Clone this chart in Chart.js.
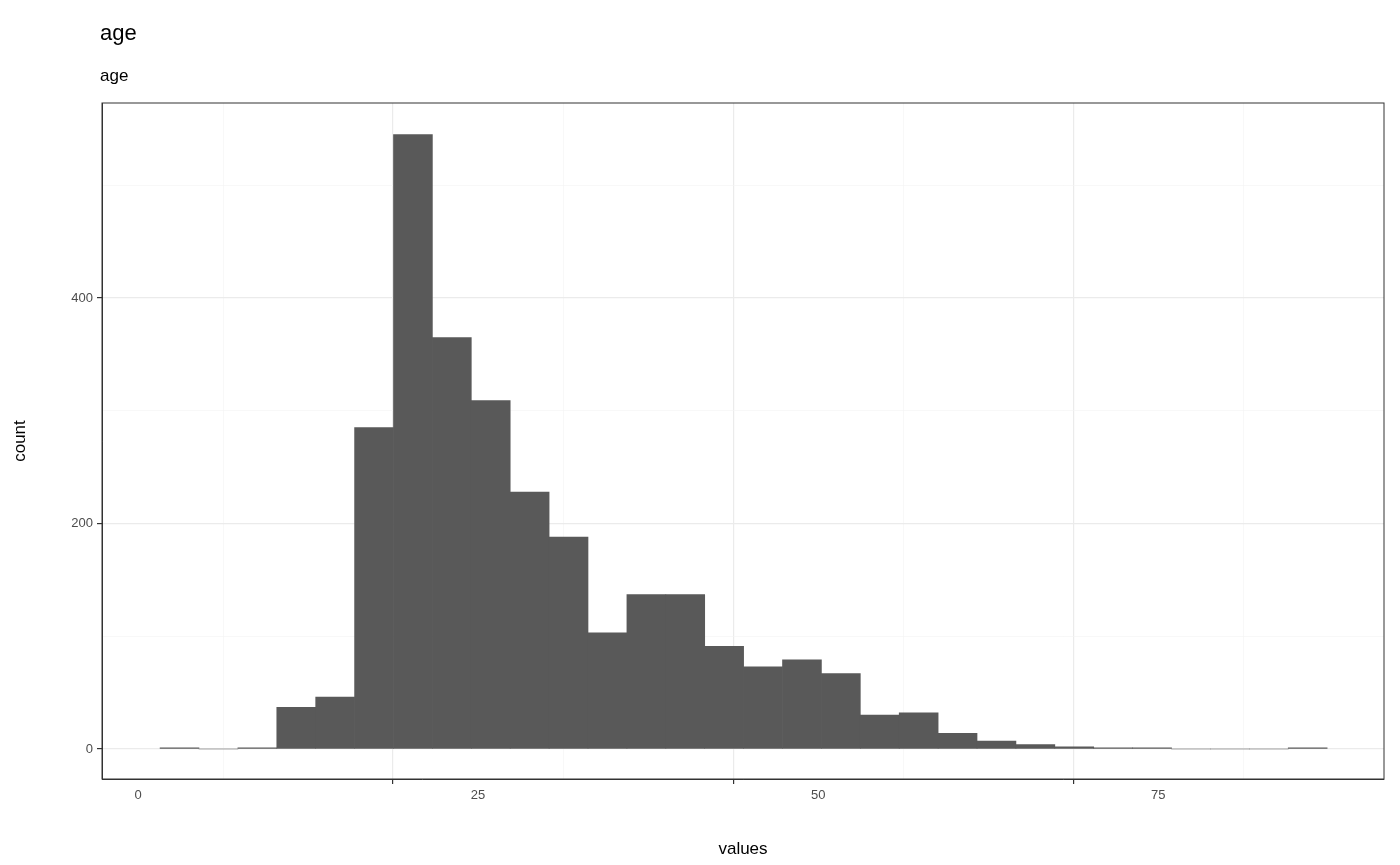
<!DOCTYPE html>
<html><head><meta charset="utf-8">
<script src="https://cdn.jsdelivr.net/npm/chart.js@4/dist/chart.umd.min.js"></script>
<style>html,body{margin:0;padding:0;background:#fff}#c{display:block}</style>
</head><body>
<div style="width:1400px;height:865px"><canvas id="c"></canvas></div>
<script>
const titleText = "age";
const subtitleText = "age";
const binStart = 1.62;
const binWidth = 2.86;
const counts = [1,0,1,37,46,285,545,365,309,228,188,103,137,137,91,73,79,67,30,32,14,7,4,2,1,1,0,0,0,1];
const xTicks = [0,12.5,25,37.5,50,62.5,75,87.5];
const yTicks = [0,100,200,300,400,500];

const data = counts.map((c,i)=>({x: binStart + binWidth*(i+0.5), y: c}));

const titlePlugin = {
  id:'titles',
  afterDraw(chart){
    const ctx = chart.ctx;
    ctx.save();
    ctx.fillStyle = '#000';
    ctx.textBaseline = 'alphabetic';
    ctx.font = '22px "Liberation Sans", Arial, sans-serif';
    ctx.fillText(titleText, 100, 40);
    ctx.font = '17px "Liberation Sans", Arial, sans-serif';
    ctx.fillText(subtitleText, 100, 81);
    ctx.restore();
  }
};

const major = v => Math.abs(v % 25) < 1e-6;
const majorY = v => Math.abs(v % 200) < 1e-6;
const tv = c => (c && c.tick) ? c.tick.value : null;

new Chart(document.getElementById('c'), {
  type:'bar',
  data:{datasets:[{data, backgroundColor:'#595959', borderWidth:0, barPercentage:1, categoryPercentage:1, grouped:false}]},
  options:{
    responsive:true, maintainAspectRatio:false, animation:false,
    layout:{padding:{left:10,right:16,top:103,bottom:5}},
    plugins:{legend:{display:false},tooltip:{enabled:false}},
    scales:{
      x:{type:'linear', min:-2.65, max:91.6, offset:false,
        afterBuildTicks(s){ s.ticks = xTicks.map(v=>({value:v})); },
        afterFit(s){ s.height = 81; },
        ticks:{autoSkip:false, maxRotation:0, color:'#4d4d4d', font:{size:13, family:'"Liberation Sans", Arial, sans-serif'}, padding:4,
          callback:v=> major(v) ? String(v) : ''},
        grid:{color:c=> { const v=tv(c); return v===null?'#ebebeb':(major(v) ? '#ebebeb' : '#f4f4f4'); },
          lineWidth:c=> { const v=tv(c); return v!==null && major(v)?1.2:0.6; },
          tickColor:c=> { const v=tv(c); return v!==null && major(v) ? '#333' : 'rgba(0,0,0,0)'; }, tickLength:5},
        border:{color:'#333', width:1},
        title:{display:true, text:'values', color:'#000', font:{size:17, family:'"Liberation Sans", Arial, sans-serif'}, padding:{top:4,bottom:0}}
      },
      y:{min:-26.6, max:573,
        afterBuildTicks(s){ s.ticks = yTicks.map(v=>({value:v})); },
        afterFit(s){ s.width = 92; },
        ticks:{color:'#4d4d4d', font:{size:13, family:'"Liberation Sans", Arial, sans-serif'}, padding:4,
          callback:v=> majorY(v) ? String(v) : ''},
        grid:{color:c=> { const v=tv(c); return v===null?'#ebebeb':(majorY(v) ? '#ebebeb' : '#f4f4f4'); },
          lineWidth:c=> { const v=tv(c); return v!==null && majorY(v)?1.2:0.6; },
          tickColor:c=> { const v=tv(c); return v!==null && majorY(v) ? '#333' : 'rgba(0,0,0,0)'; }, tickLength:5},
        border:{color:'#333', width:1},
        title:{display:true, text:'count', color:'#000', font:{size:17, family:'"Liberation Sans", Arial, sans-serif'}, padding:{top:0,bottom:6}}
      }
    }
  },
  plugins:[titlePlugin, {id:'frame', afterDraw(chart){const a=chart.chartArea,ctx=chart.ctx;ctx.save();ctx.strokeStyle='#333';ctx.lineWidth=1;ctx.strokeRect(a.left,a.top,a.right-a.left,a.bottom-a.top);ctx.restore();}}]
});
</script>
</body></html>
